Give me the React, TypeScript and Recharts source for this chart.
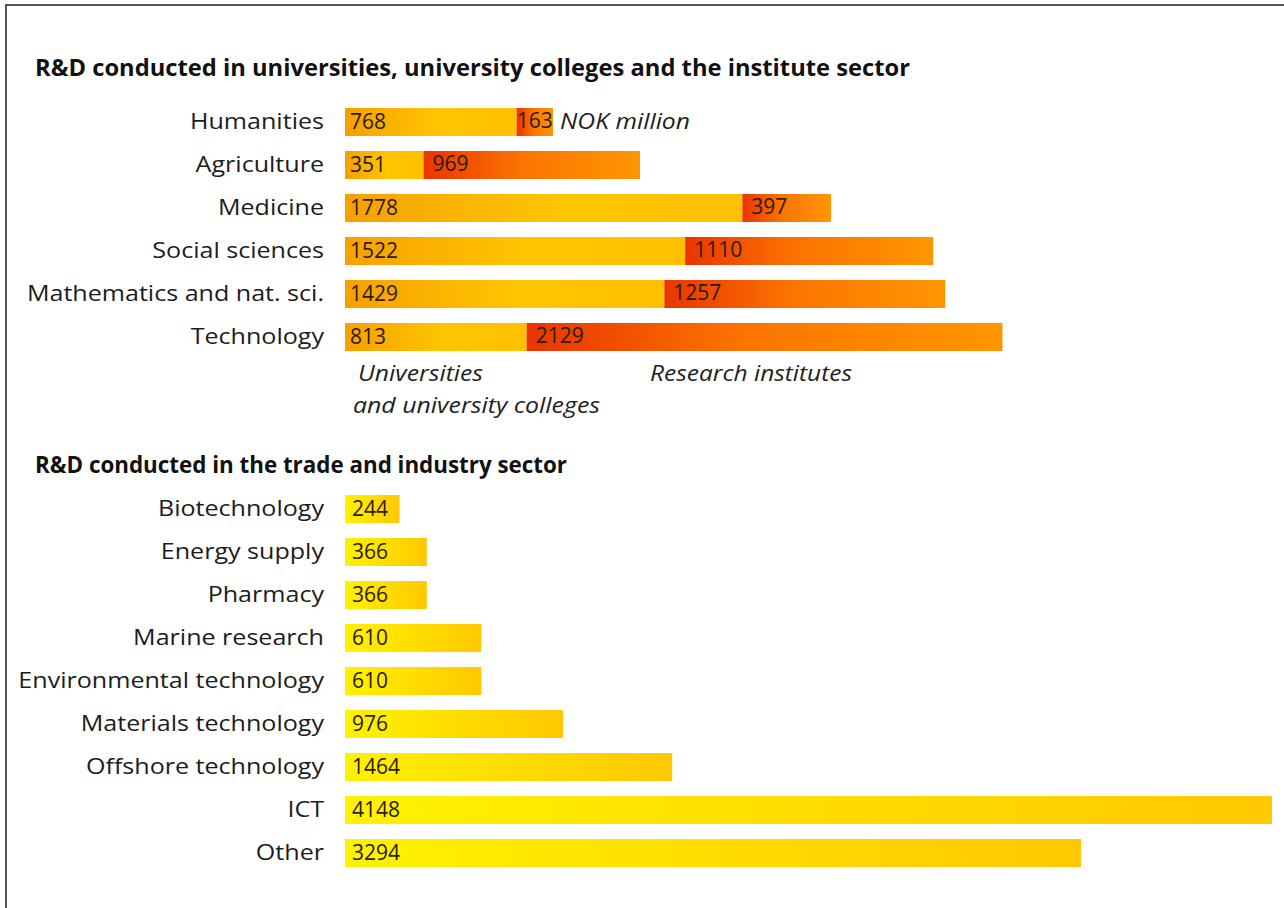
import { BarChart, Bar, XAxis, YAxis, LabelList } from 'recharts'

const FONT = "'Open Sans', 'Noto Sans', sans-serif"

// R&D in universities / university colleges and research institutes, NOK million
const sciFields = ['Humanities', 'Agriculture', 'Medicine', 'Social sciences', 'Mathematics and nat. sci.', 'Technology']
const universities = [768, 351, 1778, 1522, 1429, 813]
const institutes = [163, 969, 397, 1110, 1257, 2129]

// R&D in trade and industry, NOK million
const industryAreas = [
  'Biotechnology',
  'Energy supply',
  'Pharmacy',
  'Marine research',
  'Environmental technology',
  'Materials technology',
  'Offshore technology',
  'ICT',
  'Other',
]
const industry = [244, 366, 366, 610, 610, 976, 1464, 4148, 3294]

const X_MAX = 4148

const sciData = sciFields.map((name, i) => ({ name, uni: universities[i], inst: institutes[i] }))
const industryData = industryAreas.map((name, i) => ({ name, value: industry[i] }))

function CategoryTick({ x, y, payload }: any) {
  return (
    <g transform={`translate(${x},${y}) scale(1.14,1)`}>
      <text textAnchor="end" dy="0.36em" fontSize={22} fill="#1c1c1c" fontFamily={FONT}>
        {payload.value}
      </text>
    </g>
  )
}

const valueLabel = { fontSize: 21, fill: '#2a1c00', fontFamily: FONT }

// institute values sit a bit further in, except on very short segments
function InstLabel({ x, y, width, height, value }: any) {
  const pad = width < 50 ? 0 : 9
  return (
    <text
      x={x + pad}
      y={y + height / 2 - 2}
      dy="0.36em"
      fontSize={21}
      fill="#2a1c00"
      fontFamily={FONT}
    >
      {value}
    </text>
  )
}

export default function App() {
  return (
    <div
      style={{
        position: 'fixed',
        left: 0,
        top: 0,
        width: 1284,
        height: 908,
        background: '#fff',
        overflow: 'hidden',
      }}
    >
      <div
        style={{
          position: 'absolute',
          left: 5,
          top: 4,
          width: 1300,
          height: 960,
          border: '2px solid #555',
        }}
      />

      <div style={{ position: 'absolute', left: 0, top: 0 }}>
        <BarChart
          width={1284}
          height={360}
          data={sciData}
          layout="vertical"
          margin={{ top: 100, right: 12, bottom: 2, left: 0 }}
        >
          <defs>
            <linearGradient id="uniGrad" x1="0" y1="0" x2="1" y2="0">
              <stop offset="0" stopColor="#F7A000" />
              <stop offset="0.55" stopColor="#FFC600" />
              <stop offset="1" stopColor="#FFC000" />
            </linearGradient>
            <linearGradient id="instGrad" x1="0" y1="0" x2="1" y2="0">
              <stop offset="0" stopColor="#EA3400" />
              <stop offset="0.45" stopColor="#FB7400" />
              <stop offset="1" stopColor="#FF9600" />
            </linearGradient>
          </defs>
          <XAxis type="number" domain={[0, X_MAX]} hide />
          <YAxis
            type="category"
            dataKey="name"
            width={345}
            axisLine={false}
            tickLine={false}
            tickSize={0}
            tickMargin={21}
            tick={<CategoryTick />}
            interval={0}
          />
          <Bar dataKey="uni" stackId="a" fill="url(#uniGrad)" barSize={28} isAnimationActive={false}>
            <LabelList dataKey="uni" position="insideLeft" offset={5} style={valueLabel} />
          </Bar>
          <Bar dataKey="inst" stackId="a" fill="url(#instGrad)" barSize={28} isAnimationActive={false}>
            <LabelList dataKey="inst" content={<InstLabel />} />
          </Bar>
        </BarChart>
      </div>

      <div style={{ position: 'absolute', left: 0, top: 440 }}>
        <BarChart
          width={1284}
          height={440}
          data={industryData}
          layout="vertical"
          margin={{ top: 47, right: 12, bottom: 6, left: 0 }}
        >
          <defs>
            <linearGradient id="indGrad" x1="0" y1="0" x2="1" y2="0">
              <stop offset="0" stopColor="#FFF200" />
              <stop offset="1" stopColor="#FFC800" />
            </linearGradient>
          </defs>
          <XAxis type="number" domain={[0, X_MAX]} hide />
          <YAxis
            type="category"
            dataKey="name"
            width={345}
            axisLine={false}
            tickLine={false}
            tickSize={0}
            tickMargin={21}
            tick={<CategoryTick />}
            interval={0}
          />
          <Bar dataKey="value" fill="url(#indGrad)" barSize={28} isAnimationActive={false}>
            <LabelList dataKey="value" position="insideLeft" offset={7} style={valueLabel} />
          </Bar>
        </BarChart>
      </div>

      <svg
        width={1284}
        height={908}
        style={{ position: 'absolute', left: 0, top: 0, pointerEvents: 'none' }}
        fontFamily={FONT}
      >
        <text x={35} y={76} fontSize={23} fontWeight={700} fill="#111" textLength={875} lengthAdjust="spacingAndGlyphs">
          R&amp;D conducted in universities, university colleges and the institute sector
        </text>
        <text x={35} y={473} fontSize={23} fontWeight={700} fill="#111" textLength={532} lengthAdjust="spacingAndGlyphs">
          R&amp;D conducted in the trade and industry sector
        </text>
        <g fontStyle="italic" fontSize={22} fill="#222">
          <text x={560} y={129} textLength={130} lengthAdjust="spacingAndGlyphs">NOK million</text>
          <text x={358} y={381} textLength={125} lengthAdjust="spacingAndGlyphs">Universities</text>
          <text x={353} y={413} textLength={247} lengthAdjust="spacingAndGlyphs">and university colleges</text>
          <text x={650} y={381} textLength={202} lengthAdjust="spacingAndGlyphs">Research institutes</text>
        </g>
      </svg>
    </div>
  )
}
